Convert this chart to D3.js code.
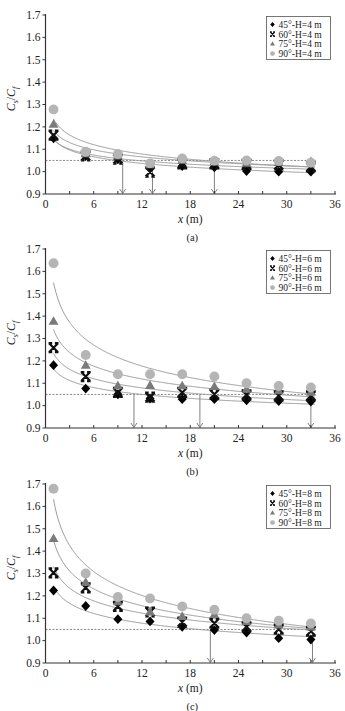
<!DOCTYPE html>
<html><head><meta charset="utf-8">
<script src="https://cdn.jsdelivr.net/npm/d3@7"></script>
<style>body{margin:0;background:#fff}svg{display:block}</style>
</head><body>
<svg id="chart" width="345" height="711"></svg>
<script>
// ---- data ----
const xPositions = [1, 5, 9, 13, 17, 21, 25, 29, 33];
const angles = ["45°", "60°", "75°", "90°"];
const panelLabels = ["(a)", "(b)", "(c)"];
const heights = ["4", "6", "8"];
const yTicks = [0.9, 1.0, 1.1, 1.2, 1.3, 1.4, 1.5, 1.6, 1.7];
const xTicks = [0, 6, 12, 18, 24, 30, 36];
const xMinorTicks = [3, 9, 15, 21, 27, 33];
const threshold = 1.05;

const a45 = [1.149, 1.07, 1.055, 1.02, 1.025, 1.019, 1.003, 1.0, 1.0];
const a60 = [1.163, 1.07, 1.056, 0.998, 1.035, 1.035, 1.032, 1.03, 1.022];
const a75 = [1.211, 1.08, 1.07, 1.03, 1.05, 1.043, 1.037, 1.04, 1.045];
const a90 = [1.278, 1.089, 1.079, 1.037, 1.059, 1.049, 1.05, 1.048, 1.04];

const b45 = [1.181, 1.076, 1.051, 1.032, 1.029, 1.029, 1.024, 1.021, 1.018];
const b60 = [1.259, 1.13, 1.059, 1.038, 1.059, 1.051, 1.048, 1.044, 1.044];
const b75 = [1.377, 1.18, 1.088, 1.09, 1.088, 1.085, 1.073, 1.066, 1.059];
const b90 = [1.636, 1.226, 1.14, 1.14, 1.14, 1.13, 1.10, 1.088, 1.081];

const c45 = [1.224, 1.155, 1.096, 1.086, 1.062, 1.047, 1.036, 1.011, 1.005];
const c60 = [1.303, 1.236, 1.153, 1.128, 1.083, 1.078, 1.062, 1.051, 1.042];
const c75 = [1.456, 1.26, 1.173, 1.128, 1.108, 1.116, 1.085, 1.07, 1.06];
const c90 = [1.679, 1.30, 1.195, 1.188, 1.153, 1.138, 1.10, 1.089, 1.077];

const arrowsA = [9.6, 13.3, 21.0];
const arrowsB = [11.0, 19.2, 33.0];
const arrowsC = [20.5, 33.2];

const panels = [
  {series: [a45, a60, a75, a90], arrows: arrowsA},
  {series: [b45, b60, b75, b90], arrows: arrowsB},
  {series: [c45, c60, c75, c90], arrows: arrowsC}
];

// ---- layout ----
const plotTops = [15, 249, 484];
const plotH = 179;
const left = 45.5, right = 335;
const FONT = "'Liberation Serif', 'DejaVu Serif', serif";
const curveColor = "#9a9a9a";
const colors = ["#000", "#111", "#7a7a7a", "#b5b5b5"];

const svg = d3.select("#chart");
svg.append("rect").attr("width", 345).attr("height", 711).attr("fill", "#fff");

const x = d3.scaleLinear().domain([0, 36]).range([left, right]);

// power trendline fit (least squares in log space)
function powerFit(xs, ys) {
  const lx = xs.map(Math.log), ly = ys.map(Math.log);
  const mx = d3.mean(lx), my = d3.mean(ly);
  let sxy = 0, sxx = 0;
  lx.forEach((v, i) => { sxy += (v - mx) * (ly[i] - my); sxx += (v - mx) * (v - mx); });
  const b = sxy / sxx;
  const a = Math.exp(my - b * mx);
  return t => a * Math.pow(t, b);
}

const diamond = { draw(ctx, s) { const w = s * 0.5, h = s * 0.55;
  ctx.moveTo(0, -h); ctx.lineTo(w, 0); ctx.lineTo(0, h); ctx.lineTo(-w, 0); ctx.closePath(); } };
const triangle = { draw(ctx, s) { const h = s * 0.95, w = s * 0.55;
  ctx.moveTo(0, -h * 0.6); ctx.lineTo(w, h * 0.4); ctx.lineTo(-w, h * 0.4); ctx.closePath(); } };

function drawMarker(g, k, cx, cy, s) {
  if (k === 0) {
    g.append("path").attr("d", d3.symbol().type(diamond).size(s)()).attr("transform", `translate(${cx},${cy})`).attr("fill", colors[0]);
  } else if (k === 1) {
    const r = s * 0.5;
    const p = d3.path();
    p.moveTo(-r, -r); p.lineTo(r, r); p.moveTo(r, -r); p.lineTo(-r, r);
    p.moveTo(-r * 1.1, -r); p.lineTo(-r * 0.3, -r); p.moveTo(r * 0.3, -r); p.lineTo(r * 1.1, -r);
    p.moveTo(-r * 1.1, r); p.lineTo(-r * 0.3, r); p.moveTo(r * 0.3, r); p.lineTo(r * 1.1, r);
    g.append("path").attr("d", p.toString()).attr("transform", `translate(${cx},${cy})`)
      .attr("stroke", colors[1]).attr("stroke-width", s > 6 ? 2.2 : 1.3).attr("fill", "none");
  } else if (k === 2) {
    g.append("path").attr("d", d3.symbol().type(triangle).size(s)()).attr("transform", `translate(${cx},${cy})`).attr("fill", colors[2]);
  } else {
    g.append("circle").attr("cx", cx).attr("cy", cy).attr("r", s * 0.55).attr("fill", colors[3]);
  }
}

panels.forEach((P, pi) => {
  const top = plotTops[pi], bottom = top + plotH;
  const y = d3.scaleLinear().domain([0.9, 1.7]).range([bottom, top]);
  const g = svg.append("g");

  // threshold dashed line
  g.append("line").attr("x1", x(0)).attr("x2", x(33.6)).attr("y1", y(threshold)).attr("y2", y(threshold))
    .attr("stroke", "#8a8a8a").attr("stroke-width", 1).attr("stroke-dasharray", "2,1.5");

  // fitted curves
  const line = d3.line().x(d => x(d[0])).y(d => y(d[1])).curve(d3.curveLinear);
  P.series.forEach(s => {
    const f = powerFit(xPositions, s);
    const pts = d3.range(1, 33.51, 0.1).map(t => [t, f(t)]);
    g.append("path").attr("d", line(pts)).attr("fill", "none").attr("stroke", curveColor).attr("stroke-width", 1);
  });

  // arrows
  P.arrows.forEach(ax => {
    const xx = x(ax);
    g.append("line").attr("x1", xx).attr("x2", xx).attr("y1", y(threshold)).attr("y2", y(0.9) - 0.5)
      .attr("stroke", "#808080").attr("stroke-width", 1);
    g.append("path").attr("d", `M${xx - 3},${y(0.9) - 5} L${xx},${y(0.9) - 0.5} L${xx + 3},${y(0.9) - 5}`)
      .attr("fill", "none").attr("stroke", "#808080").attr("stroke-width", 1);
  });

  // data points
  P.series.forEach((s, k) => {
    s.forEach((v, i) => drawMarker(g, k, x(xPositions[i]), y(v), 9));
  });

  // axes
  g.append("line").attr("x1", left).attr("x2", left).attr("y1", top - 1).attr("y2", bottom).attr("stroke", "#333").attr("stroke-width", 1.2);
  g.append("line").attr("x1", left).attr("x2", right + 1).attr("y1", bottom).attr("y2", bottom).attr("stroke", "#333").attr("stroke-width", 1.2);
  yTicks.forEach(t => {
    g.append("line").attr("x1", left - 3).attr("x2", left).attr("y1", y(t)).attr("y2", y(t)).attr("stroke", "#333");
    g.append("text").attr("x", left - 5).attr("y", y(t)).attr("dy", "0.33em").attr("text-anchor", "end")
      .attr("font-family", FONT).attr("font-size", 11.5).attr("fill", "#222").text(d3.format(".1f")(t));
  });
  xTicks.concat(xMinorTicks).forEach(t => {
    g.append("line").attr("x1", x(t)).attr("x2", x(t)).attr("y1", bottom).attr("y2", bottom - 3).attr("stroke", "#333");
  });
  xTicks.forEach(t => {
    g.append("text").attr("x", x(t)).attr("y", bottom + 10).attr("dy", "0.35em").attr("text-anchor", "middle")
      .attr("font-family", FONT).attr("font-size", 11.5).attr("fill", "#222").text(t);
  });

  // x label
  const xl = g.append("text").attr("x", x(18)).attr("y", bottom + 25).attr("dy", "0.35em").attr("text-anchor", "middle")
    .attr("font-family", FONT).attr("font-size", 11.5).attr("fill", "#222");
  xl.append("tspan").attr("font-style", "italic").text("x");
  xl.append("tspan").text(" (m)");

  // panel label
  g.append("text").attr("x", x(18) + 2).attr("y", bottom + 43).attr("dy", "0.35em").attr("text-anchor", "middle")
    .attr("font-family", FONT).attr("font-size", 10.5).attr("fill", "#222").text(panelLabels[pi]);

  // y label
  const yl = g.append("text").attr("transform", `translate(15,${top + 84}) rotate(-90)`).attr("text-anchor", "middle")
    .attr("font-family", FONT).attr("font-size", 12).attr("fill", "#222");
  yl.append("tspan").attr("font-style", "italic").text("C");
  yl.append("tspan").attr("font-size", 8).attr("font-style", "italic").attr("dy", 2.5).text("s");
  yl.append("tspan").attr("dy", -2.5).text("/");
  yl.append("tspan").attr("font-style", "italic").text("C");
  yl.append("tspan").attr("font-size", 8).attr("font-style", "italic").attr("dy", 2.5).text("f");

  // legend
  const lx = 266.5, ly = top + 1.5, lw = 64, lh = 43;
  g.append("rect").attr("x", lx).attr("y", ly).attr("width", lw).attr("height", lh)
    .attr("fill", "#fff").attr("stroke", "#555").attr("stroke-width", 0.8);
  angles.forEach((a, k) => {
    const ry = ly + 8 + k * 9.7;
    drawMarker(g, k, lx + 6, ry, 4.5);
    g.append("text").attr("x", lx + 12).attr("y", ry).attr("dy", "0.35em")
      .attr("font-family", FONT).attr("font-size", 9.5).attr("fill", "#222")
      .text(`${a}-H=${heights[pi]} m`);
  });
});
</script>
</body></html>
